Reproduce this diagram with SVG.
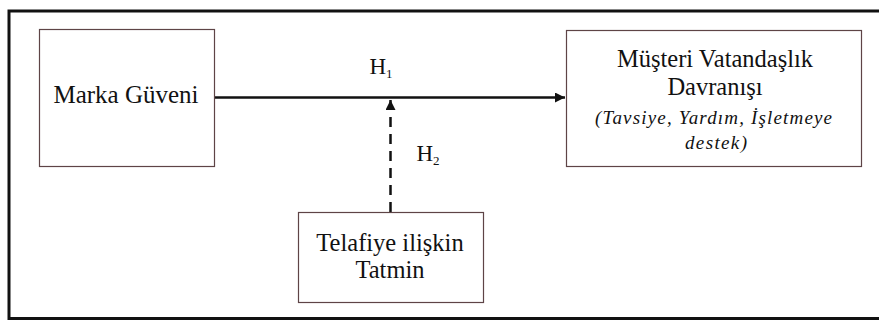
<svg xmlns="http://www.w3.org/2000/svg" width="879" height="320" viewBox="0 0 879 320">
<defs>
<style>
.box{fill:#fff;stroke:#5e4446;stroke-width:1.2}
.line{stroke:#111;stroke-width:2.5;fill:none}
</style>
<marker id="ah" viewBox="0 0 10 10" refX="10" refY="5" markerWidth="4" markerHeight="4" orient="auto" markerUnits="strokeWidth">
<path d="M0,0 L10,5 L0,10 z" fill="#111"/>
</marker>
</defs>
<rect x="0" y="0" width="879" height="320" fill="#fff"/>
<path d="M9,320 V11 H880" fill="none" stroke="#111" stroke-width="3"/>
<path d="M9,318.5 H880" fill="none" stroke="#111" stroke-width="3"/>
<g font-family="'Liberation Serif', 'DejaVu Serif', serif" fill="#111" text-anchor="middle">
<g id="connectors">
<line class="line" x1="215" y1="97.5" x2="565" y2="97.5" marker-end="url(#ah)"/>
<line class="line" x1="390.5" y1="212" x2="390.5" y2="100" stroke-dasharray="10,7" marker-end="url(#ah)"/>
<text x="381" y="74" font-size="23">H<tspan font-size="13" dy="4">1</tspan></text>
<text x="428" y="161" font-size="23">H<tspan font-size="13" dy="4">2</tspan></text>
</g>
<g id="marka">
<rect class="box" x="39.5" y="29.5" width="175" height="137"/>
<text x="126" y="103" font-size="25">Marka Güveni</text>
</g>
<g id="musteri">
<rect class="box" x="566.5" y="30.5" width="295" height="136"/>
<text x="715" y="67" font-size="24.5">Müşteri Vatandaşlık</text>
<text x="715" y="95" font-size="24.5">Davranışı</text>
<text x="713.5" y="124" font-size="19" font-style="italic" textLength="237" lengthAdjust="spacing">(Tavsiye, Yardım, İşletmeye</text>
<text x="716" y="149" font-size="19" font-style="italic" textLength="62" lengthAdjust="spacing">destek)</text>
</g>
<g id="telafiye">
<rect class="box" x="298.5" y="212.5" width="185" height="90"/>
<text x="390" y="251" font-size="24.5">Telafiye ilişkin</text>
<text x="390" y="278" font-size="24.5">Tatmin</text>
</g>
</g>
</svg>
